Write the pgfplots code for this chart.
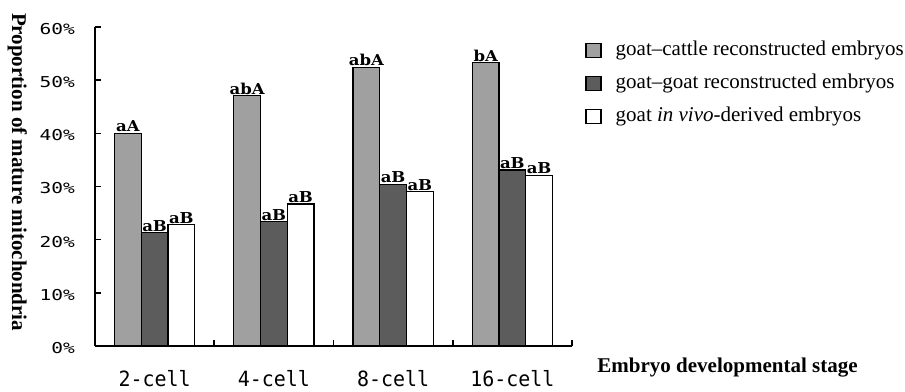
\documentclass[border=0pt]{standalone}
\usepackage{fontspec}
\setmainfont{Liberation Serif}
\setmonofont{DejaVu Sans Mono}
\newfontfamily\ytfont{DejaVu Sans Mono}[FakeStretch=1.3]
\newfontfamily\xtfont{DejaVu Sans Mono}[FakeStretch=0.95]
\newfontfamily\barfont{DejaVu Serif}[FakeStretch=1.1]
\usepackage{pgfplots}
\pgfplotsset{compat=1.18}
\definecolor{lgray}{RGB}{160,160,160}
\definecolor{dgray}{RGB}{92,92,92}
\begin{document}
\begin{tikzpicture}[x=1pt,y=1pt]
\useasboundingbox (0,0) rectangle (905,391);
\begin{axis}[
 at={(95pt,45pt)}, anchor=south west,
 scale only axis, width=477pt, height=319pt,
 xmin=-0.5, xmax=3.5, ymin=0, ymax=60,
 axis x line*=bottom, axis y line*=left,
 axis line style={line width=1.6pt},
 ybar=0pt, bar width=26.7pt,
 tick align=inside,
 tick style={line width=1.6pt, black},
 major tick length=6pt,
 xtick={0.5,1.5,2.5,3.5}, xticklabels={},
 extra x ticks={0,1,2,3},
 extra x tick labels={2-cell,4-cell,8-cell,16-cell},
 extra x tick style={major tick length=0pt},
 ytick={0,10,20,30,40,50,60},
 yticklabels={0\%,10\%,20\%,30\%,40\%,50\%,60\%},
 yticklabel style={font=\ytfont\fontsize{15}{15}\selectfont, anchor=east, inner sep=0pt, xshift=-20pt, yshift=-2pt},
 xticklabel style={font=\xtfont\fontsize{21}{21}\selectfont, anchor=base, inner sep=0pt, yshift=-40pt},
 ylabel={\bfseries Proportion of mature mitochondria},
 ylabel style={at={(axis description cs:-0.163,0.545)}, anchor=center, rotate=180, font=\fontsize{21}{21}\selectfont},
 xlabel={\bfseries Embryo developmental stage},
 xlabel style={at={(axis description cs:1.326,-0.0846)}, anchor=base, font=\fontsize{21}{21}\selectfont},
 point meta=explicit symbolic,
 nodes near coords={\pgfplotspointmeta},
 nodes near coords style={font=\barfont\bfseries\fontsize{15}{15}\selectfont, anchor=south, inner sep=0.6pt},
 legend cell align=left,
 legend style={at={(rel axis cs:1,1)}, anchor=north west, xshift=13pt, yshift=-14pt, draw=none, fill=none, inner sep=0pt,
   font=\fontsize{21}{25}\selectfont,
   nodes={text height=14pt, text depth=5pt, inner sep=0pt},
   row sep=14pt,
   /tikz/every odd column/.append style={column sep=14pt}},
 legend image code/.code={\draw[#1, line width=1.5pt, draw=black] (0pt,-7pt) rectangle (15pt,7pt);},
]
\addplot[fill=lgray, draw=black, line width=1.2pt] coordinates {(0,40.0)[aA] (1,47.1)[abA] (2,52.4)[abA] (3,53.3)[bA]};
\addplot[fill=dgray, draw=black, line width=1.2pt] coordinates {(0,21.3)[aB] (1,23.4)[aB] (2,30.4)[aB] (3,33.1)[aB]};
\addplot[fill=white, draw=black, line width=1.2pt] coordinates {(0,22.8)[aB] (1,26.7)[aB] (2,29.0)[aB] (3,32.1)[aB]};
\legend{goat--cattle reconstructed embryos, goat--goat reconstructed embryos, goat \textit{in vivo}-derived embryos}
\end{axis}
\end{tikzpicture}
\end{document}
